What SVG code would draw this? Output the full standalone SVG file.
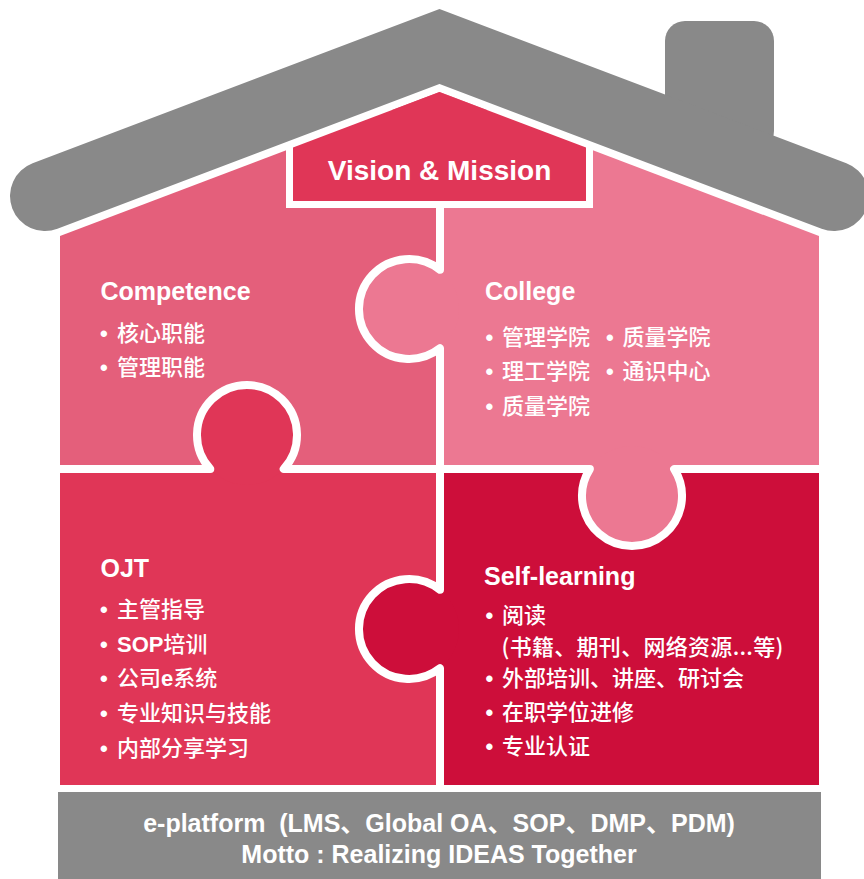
<svg xmlns="http://www.w3.org/2000/svg" width="864" height="879" viewBox="0 0 864 879">
<style>
.h{font-family:"Liberation Sans",Arial,"Noto Sans CJK SC",sans-serif;font-weight:bold;fill:#fff;font-size:25px}
.li{font-family:"Noto Sans CJK SC",sans-serif;font-weight:500;fill:#fff;font-size:22px}
.bl{font-family:"Liberation Sans",Arial,sans-serif;font-weight:bold}
.lat{font-family:"Liberation Sans",Arial,sans-serif;font-weight:bold}
.ft{font-family:"Liberation Sans",Arial,"Noto Sans CJK SC",sans-serif;font-weight:bold;fill:#fff;font-size:25px;text-anchor:middle;white-space:pre}
.div{fill:none;stroke:#fff;stroke-width:8;stroke-linejoin:round}
</style>
<defs>
<clipPath id="house"><polygon points="60,236 439.5,92 819,236 819,785 60,785"/></clipPath>
</defs>
<rect width="864" height="879" fill="#fff"/>
<g clip-path="url(#house)">
<g id="competence"><rect x="60" y="90" width="380" height="379" fill="#e45f7b"/></g>
<g id="ojt"><rect x="60" y="469" width="380" height="316" fill="#e03657"/><circle cx="247" cy="435" r="50" fill="#e03657"/></g>
<g id="self-learning"><rect x="440" y="469" width="379" height="316" fill="#cd0e3a"/><circle cx="409" cy="629" r="50" fill="#cd0e3a"/></g>
<g id="college"><rect x="440" y="90" width="379" height="379" fill="#ec7892"/><circle cx="409" cy="309" r="50" fill="#ec7892"/><circle cx="632" cy="496" r="50" fill="#ec7892"/></g>
</g>
<g id="connectors">
<path class="div" d="M440,200 V269.8 A50,50 0 1 0 440,348.2 V589.8 A50,50 0 1 0 440,668.2 V790"/>
<path class="div" d="M50,469 H210.3 A50,50 0 1 1 283.7,469 H589.9 A50,50 0 1 0 674.1,469 H830"/>
</g>
<g id="vision">
<rect x="286" y="110" width="307" height="98" fill="#fff"/>
<polygon points="293,147.6 439.5,92 586,147.6 586,201 293,201" fill="#e03657"/>
<text class="h" x="439.5" y="179.5" text-anchor="middle" style="font-size:28px">Vision &amp; Mission</text>
</g>
<g id="roof">
<rect x="665" y="21" width="109" height="130" rx="20" fill="#898989"/>
<path d="M45,196 L439.5,46.5 L834,196" fill="none" stroke="#898989" stroke-width="70" stroke-linecap="round" stroke-linejoin="miter"/>
</g>
<g id="competence-text">
<text class="h" x="100.5" y="300">Competence</text>
<text class="li" y="341"><tspan class="bl" x="100">•</tspan><tspan x="117">核心职能</tspan></text>
<text class="li" y="374.5"><tspan class="bl" x="100">•</tspan><tspan x="117">管理职能</tspan></text>
</g>
<g id="college-text">
<text class="h" x="485" y="300">College</text>
<text class="li" y="344.5"><tspan class="bl" x="485.5">•</tspan><tspan x="502">管理学院</tspan><tspan class="bl" x="606">•</tspan><tspan x="622.5">质量学院</tspan></text>
<text class="li" y="379"><tspan class="bl" x="485.5">•</tspan><tspan x="502">理工学院</tspan><tspan class="bl" x="606">•</tspan><tspan x="622.5">通识中心</tspan></text>
<text class="li" y="414"><tspan class="bl" x="485.5">•</tspan><tspan x="502">质量学院</tspan></text>
</g>
<g id="ojt-text">
<text class="h" x="100.5" y="577">OJT</text>
<text class="li" y="617"><tspan class="bl" x="100">•</tspan><tspan x="117">主管指导</tspan></text>
<text class="li" y="651.5"><tspan class="bl" x="100">•</tspan><tspan class="lat" x="117">SOP</tspan><tspan>培训</tspan></text>
<text class="li" y="686"><tspan class="bl" x="100">•</tspan><tspan x="117">公司</tspan><tspan class="lat">e</tspan><tspan>系统</tspan></text>
<text class="li" y="721"><tspan class="bl" x="100">•</tspan><tspan x="117">专业知识与技能</tspan></text>
<text class="li" y="755.5"><tspan class="bl" x="100">•</tspan><tspan x="117">内部分享学习</tspan></text>
</g>
<g id="self-learning-text">
<text class="h" x="484" y="585">Self-learning</text>
<text class="li" y="623"><tspan class="bl" x="485.5">•</tspan><tspan x="502">阅读</tspan></text>
<text class="li" y="655" x="501.5" letter-spacing="0.3">(书籍、期刊、网络资源...等)</text>
<text class="li" y="686"><tspan class="bl" x="485.5">•</tspan><tspan x="502">外部培训、讲座、研讨会</tspan></text>
<text class="li" y="720"><tspan class="bl" x="485.5">•</tspan><tspan x="502">在职学位进修</tspan></text>
<text class="li" y="754"><tspan class="bl" x="485.5">•</tspan><tspan x="502">专业认证</tspan></text>
</g>
<g id="platform">
<rect x="58" y="792" width="763" height="87" fill="#898989"/>
<text class="ft" x="439" y="832">e-platform  (LMS、Global OA、SOP、DMP、PDM)</text>
<text class="ft" x="439" y="863">Motto : Realizing IDEAS Together</text>
</g>
</svg>
